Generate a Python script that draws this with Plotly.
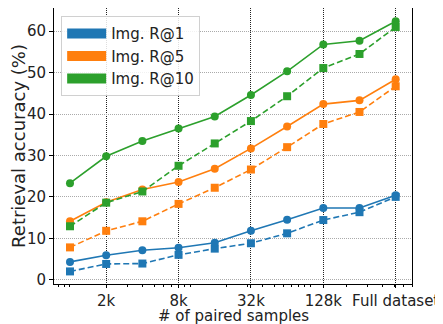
import plotly.graph_objects as go

samples = [1000, 2000, 4000, 8000, 16000, 32000, 64000, 128000, 256000, 512000]
tick_vals = [2000, 8000, 32000, 128000, 512000]
tick_text = ["2k", "8k", "32k", "128k", "Full dataset"]

r1_solid = [4.3, 5.9, 7.1, 7.7, 8.9, 11.8, 14.5, 17.3, 17.3, 20.4]
r1_dash = [2.0, 3.8, 3.9, 6.0, 7.5, 8.8, 11.2, 14.4, 16.3, 20.0]
r5_solid = [14.1, 18.7, 21.8, 23.6, 26.8, 31.7, 37.0, 42.4, 43.3, 48.4]
r5_dash = [7.8, 11.8, 14.1, 18.3, 22.2, 26.6, 32.0, 37.6, 40.5, 46.7]
r10_solid = [23.3, 29.8, 33.5, 36.5, 39.4, 44.6, 50.3, 56.8, 57.7, 62.4]
r10_dash = [12.9, 18.6, 21.3, 27.5, 32.9, 38.3, 44.3, 51.1, 54.5, 61.0]

names = ["Img. R@1", "Img. R@5", "Img. R@10"]
colors = ["#1f77b4", "#ff7f0e", "#2ca02c"]
solid = [r1_solid, r5_solid, r10_solid]
dashed = [r1_dash, r5_dash, r10_dash]

fig = go.Figure()
for name, c, s, d in zip(names, colors, solid, dashed):
    fig.add_trace(go.Scatter(x=samples, y=d, mode="lines+markers", showlegend=False,
                             line=dict(color=c, width=1.6, dash="6px,3px"),
                             marker=dict(symbol="square", size=8, color=c)))
    fig.add_trace(go.Scatter(x=samples, y=s, mode="lines+markers", showlegend=False,
                             line=dict(color=c, width=1.6),
                             marker=dict(symbol="circle", size=8, color=c)))
for name, c in zip(names, colors):
    fig.add_trace(go.Scatter(x=[None], y=[None], mode="lines", name=name,
                             line=dict(color=c, width=12)))

minor_vals = [m * 10 ** e for e in range(2, 6) for m in range(1, 10)]

font = dict(family="DejaVu Sans", size=15, color="#222222")
fig.update_layout(
    width=435, height=316,
    margin=dict(l=46, r=31, t=0, b=40),
    paper_bgcolor="white", plot_bgcolor="white",
    font=font,
    showlegend=True,
    legend=dict(x=0.02, y=0.97, xanchor="left", yanchor="top",
                bgcolor="rgba(255,255,255,0.85)", bordercolor="#d0d0d0", borderwidth=1,
                font=dict(family="DejaVu Sans", size=15, color="#222222"),
                itemwidth=39, tracegroupgap=0),
    annotations=[dict(text="# of paired samples", xref="paper", yref="paper",
                      x=0.5, y=0, yshift=-32, xanchor="center", yanchor="middle",
                      showarrow=False, font=font)],
)
fig.update_xaxes(
    type="log", range=[2.867, 5.845], automargin=False,
    tickmode="array", tickvals=tick_vals, ticktext=tick_text,
    ticks="outside", ticklen=3, tickcolor="black",
    showline=True, linecolor="black", linewidth=1, mirror=True,
    showgrid=True, gridcolor="#222222", griddash="1px,1px", gridwidth=1,
    minor=dict(tickmode="array", tickvals=minor_vals, ticks="outside", ticklen=2,
               tickcolor="black", showgrid=False),
    zeroline=False,
)
fig.update_yaxes(
    range=[-1.04, 65.6], automargin=False,
    tickmode="array", tickvals=[0, 10, 20, 30, 40, 50, 60],
    ticks="outside", ticklen=4, tickcolor="black",
    showline=True, linecolor="black", linewidth=1, mirror=True,
    showgrid=True, gridcolor="#aaaaaa", griddash="1px,1px", gridwidth=1,
    title=dict(text="Retrieval accuracy (%)", standoff=6),
    zeroline=False,
)
fig.write_html("out.html")
